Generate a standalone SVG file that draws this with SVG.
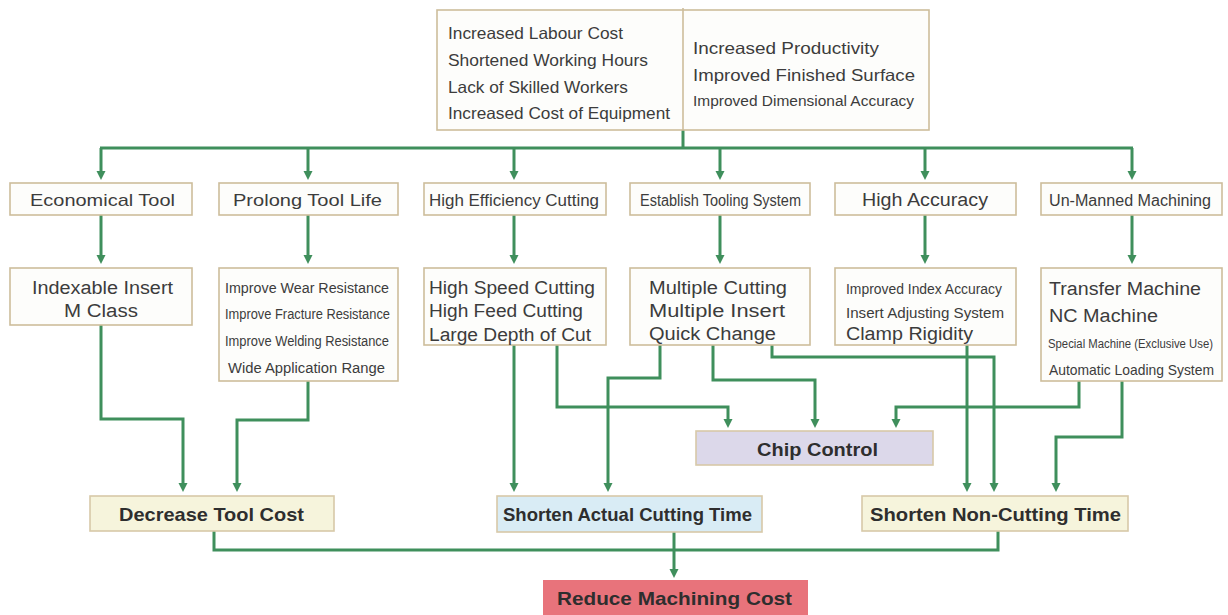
<svg xmlns="http://www.w3.org/2000/svg" width="1228" height="615" viewBox="0 0 1228 615">
<style>
.bx{fill:#fdfdfb;stroke:#cdbd9c;stroke-width:1.6}
.t{font-family:"Liberation Sans",Arial,sans-serif;fill:#3c3c3c}
.b{font-family:"Liberation Sans",Arial,sans-serif;font-weight:bold;fill:#2e2e2e}
.c{fill:none;stroke:#3f8f5c;stroke-width:3}
</style>
<defs>
<marker id="ah" markerUnits="userSpaceOnUse" markerWidth="10" markerHeight="10" refX="3" refY="4.5" orient="auto">
<path d="M0,0 L9,4.5 L0,9 z" fill="#3f8f5c"/>
</marker>
</defs>
<rect width="1228" height="615" fill="#ffffff"/>

<g id="connectors">
<path class="c" d="M683,130 V148 M100,148 H1133"/>
<path class="c" marker-end="url(#ah)" d="M101,148 V174"/>
<path class="c" marker-end="url(#ah)" d="M308,148 V174"/>
<path class="c" marker-end="url(#ah)" d="M514,148 V174"/>
<path class="c" marker-end="url(#ah)" d="M720,148 V174"/>
<path class="c" marker-end="url(#ah)" d="M925,148 V174"/>
<path class="c" marker-end="url(#ah)" d="M1132,148 V174"/>
<path class="c" marker-end="url(#ah)" d="M101,215 V258"/>
<path class="c" marker-end="url(#ah)" d="M308,215 V258"/>
<path class="c" marker-end="url(#ah)" d="M514,215 V258"/>
<path class="c" marker-end="url(#ah)" d="M720,215 V258"/>
<path class="c" marker-end="url(#ah)" d="M925,215 V258"/>
<path class="c" marker-end="url(#ah)" d="M1132,215 V258"/>
<path class="c" marker-end="url(#ah)" d="M101,325 V419 H183 V486"/>
<path class="c" marker-end="url(#ah)" d="M308,381 V420 H237 V486"/>
<path class="c" marker-end="url(#ah)" d="M514,345 V486"/>
<path class="c" marker-end="url(#ah)" d="M557,345 V407 H728 V422"/>
<path class="c" marker-end="url(#ah)" d="M660,345 V378 H608 V486"/>
<path class="c" marker-end="url(#ah)" d="M713,345 V380 H815 V422"/>
<path class="c" marker-end="url(#ah)" d="M772,345 V357 H994 V486"/>
<path class="c" marker-end="url(#ah)" d="M967,338 V486"/>
<path class="c" marker-end="url(#ah)" d="M1079,381 V407 H896 V422"/>
<path class="c" marker-end="url(#ah)" d="M1122,381 V437 H1056 V486"/>
<path class="c" d="M214,531 V550 H998 V531"/>
<path class="c" marker-end="url(#ah)" d="M674,532 V572"/>
</g>

<g id="top">
<rect class="bx" x="437" y="10" width="492" height="120"/>
<line x1="683" y1="8" x2="683" y2="130" stroke="#cdbd9c" stroke-width="1.6"/>
<text class="t" font-size="16.5" x="448" y="39" textLength="175" lengthAdjust="spacingAndGlyphs">Increased Labour Cost</text>
<text class="t" font-size="16.5" x="448" y="66" textLength="200" lengthAdjust="spacingAndGlyphs">Shortened Working Hours</text>
<text class="t" font-size="16.5" x="448" y="93" textLength="180" lengthAdjust="spacingAndGlyphs">Lack of Skilled Workers</text>
<text class="t" font-size="16.5" x="448" y="119" textLength="222" lengthAdjust="spacingAndGlyphs">Increased Cost of Equipment</text>
<text class="t" font-size="16.5" x="693" y="54" textLength="186" lengthAdjust="spacingAndGlyphs">Increased Productivity</text>
<text class="t" font-size="16.5" x="693" y="81" textLength="222" lengthAdjust="spacingAndGlyphs">Improved Finished Surface</text>
<text class="t" font-size="15.5" x="693" y="106" textLength="221" lengthAdjust="spacingAndGlyphs">Improved Dimensional Accuracy</text>
</g>

<g id="economical-tool">
<rect class="bx" x="10" y="183" width="182" height="32"/>
<text class="t" font-size="17" x="30" y="206" textLength="145" lengthAdjust="spacingAndGlyphs">Economical Tool</text>
</g>
<g id="prolong-tool-life">
<rect class="bx" x="219" y="183" width="179" height="32"/>
<text class="t" font-size="17" x="233" y="206" textLength="149" lengthAdjust="spacingAndGlyphs">Prolong Tool Life</text>
</g>
<g id="high-efficiency-cutting">
<rect class="bx" x="424" y="183" width="182" height="32"/>
<text class="t" font-size="16.5" x="429" y="206" textLength="170" lengthAdjust="spacingAndGlyphs">High Efficiency Cutting</text>
</g>
<g id="establish-tooling-system">
<rect class="bx" x="630" y="183" width="180" height="32"/>
<text class="t" font-size="16" x="640" y="206" textLength="161" lengthAdjust="spacingAndGlyphs">Establish Tooling System</text>
</g>
<g id="high-accuracy">
<rect class="bx" x="835" y="183" width="181" height="32"/>
<text class="t" font-size="18" x="862" y="206" textLength="126" lengthAdjust="spacingAndGlyphs">High Accuracy</text>
</g>
<g id="un-manned-machining">
<rect class="bx" x="1041" y="183" width="181" height="32"/>
<text class="t" font-size="16" x="1049" y="206" textLength="162" lengthAdjust="spacingAndGlyphs">Un-Manned Machining</text>
</g>

<g id="indexable-insert">
<rect class="bx" x="10" y="268" width="182" height="57"/>
<text class="t" font-size="18" x="32" y="294" textLength="141" lengthAdjust="spacingAndGlyphs">Indexable Insert</text>
<text class="t" font-size="18" x="64" y="317" textLength="74" lengthAdjust="spacingAndGlyphs">M Class</text>
</g>
<g id="resistance">
<rect class="bx" x="219" y="268" width="179" height="113"/>
<text class="t" font-size="15.5" x="225" y="293" textLength="164" lengthAdjust="spacingAndGlyphs">Improve Wear Resistance</text>
<text class="t" font-size="15.5" x="225" y="319" textLength="165" lengthAdjust="spacingAndGlyphs">Improve Fracture Resistance</text>
<text class="t" font-size="15.5" x="225" y="346" textLength="164" lengthAdjust="spacingAndGlyphs">Improve Welding Resistance</text>
<text class="t" font-size="15.5" x="228" y="373" textLength="157" lengthAdjust="spacingAndGlyphs">Wide Application Range</text>
</g>
<g id="high-speed-cutting">
<rect class="bx" x="424" y="268" width="182" height="77"/>
<text class="t" font-size="18" x="429" y="294" textLength="166" lengthAdjust="spacingAndGlyphs">High Speed Cutting</text>
<text class="t" font-size="18" x="429" y="317" textLength="154" lengthAdjust="spacingAndGlyphs">High Feed Cutting</text>
<text class="t" font-size="18" x="429" y="341" textLength="162" lengthAdjust="spacingAndGlyphs">Large Depth of Cut</text>
</g>
<g id="multiple-cutting">
<rect class="bx" x="630" y="268" width="180" height="77"/>
<text class="t" font-size="18" x="649" y="294" textLength="138" lengthAdjust="spacingAndGlyphs">Multiple Cutting</text>
<text class="t" font-size="18" x="649" y="317" textLength="136" lengthAdjust="spacingAndGlyphs">Multiple Insert</text>
<text class="t" font-size="18" x="649" y="340" textLength="127" lengthAdjust="spacingAndGlyphs">Quick Change</text>
</g>
<g id="index-accuracy">
<rect class="bx" x="835" y="268" width="181" height="77"/>
<text class="t" font-size="15.5" x="846" y="294" textLength="156" lengthAdjust="spacingAndGlyphs">Improved Index Accuracy</text>
<text class="t" font-size="15.5" x="846" y="318" textLength="158" lengthAdjust="spacingAndGlyphs">Insert Adjusting System</text>
<text class="t" font-size="18" x="846" y="340" textLength="127" lengthAdjust="spacingAndGlyphs">Clamp Rigidity</text>
</g>
<g id="transfer-machine">
<rect class="bx" x="1041" y="268" width="181" height="113"/>
<text class="t" font-size="18" x="1049" y="295" textLength="152" lengthAdjust="spacingAndGlyphs">Transfer Machine</text>
<text class="t" font-size="18" x="1049" y="322" textLength="109" lengthAdjust="spacingAndGlyphs">NC Machine</text>
<text class="t" font-size="12.5" x="1048" y="348" textLength="165" lengthAdjust="spacingAndGlyphs">Special Machine (Exclusive Use)</text>
<text class="t" font-size="15" x="1049" y="375" textLength="165" lengthAdjust="spacingAndGlyphs">Automatic Loading System</text>
</g>

<g id="chip-control">
<rect x="696" y="431" width="237" height="34" fill="#dcd8ea" stroke="#d7c9a8" stroke-width="1.6"/>
<text class="b" font-size="19" x="757" y="456" textLength="121" lengthAdjust="spacingAndGlyphs">Chip Control</text>
</g>
<g id="decrease-tool-cost">
<rect x="90" y="496" width="244" height="35" fill="#f6f4dc" stroke="#d7c9a8" stroke-width="1.6"/>
<text class="b" font-size="19" x="119" y="521" textLength="185" lengthAdjust="spacingAndGlyphs">Decrease Tool Cost</text>
</g>
<g id="shorten-actual-cutting-time">
<rect x="497" y="496" width="265" height="36" fill="#d9ecf5" stroke="#d7c9a8" stroke-width="1.6"/>
<text class="b" font-size="19" x="503" y="521" textLength="249" lengthAdjust="spacingAndGlyphs">Shorten Actual Cutting Time</text>
</g>
<g id="shorten-non-cutting-time">
<rect x="862" y="496" width="266" height="35" fill="#f6f4dc" stroke="#d7c9a8" stroke-width="1.6"/>
<text class="b" font-size="19" x="870" y="521" textLength="251" lengthAdjust="spacingAndGlyphs">Shorten Non-Cutting Time</text>
</g>
<g id="reduce-machining-cost">
<rect x="543" y="580" width="265" height="40" fill="#e8737b"/>
<text class="b" font-size="19" x="557" y="605" textLength="235" lengthAdjust="spacingAndGlyphs">Reduce Machining Cost</text>
</g>
</svg>
